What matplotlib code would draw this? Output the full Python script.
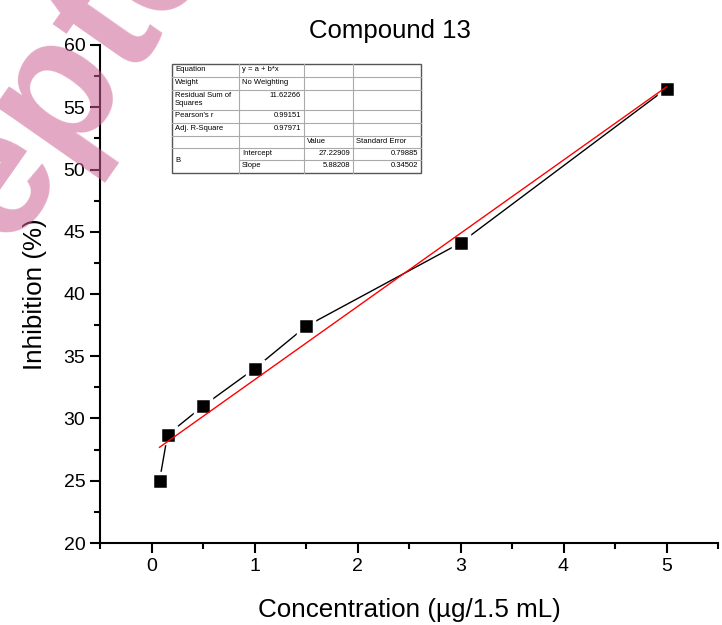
import numpy as np
import matplotlib.pyplot as plt
from matplotlib.lines import Line2D
from matplotlib.ticker import MultipleLocator

plt.rcParams['font.family'] = ['Liberation Sans', 'DejaVu Sans']

# data
conc = [0.078, 0.156, 0.5, 1.0, 1.5, 3.0, 5.0]
inhib = [25.0, 28.7, 31.0, 34.0, 37.4, 44.1, 56.5]
intercept = 27.22909
slope = 5.88208

table_rows = [
    ["Equation", "y = a + b*x", "", ""],
    ["Weight", "No Weighting", "", ""],
    ["Residual Sum of\nSquares", "11.62266", "", ""],
    ["Pearson's r", "0.99151", "", ""],
    ["Adj. R-Square", "0.97971", "", ""],
    ["", "", "Value", "Standard Error"],
    ["B", "Intercept", "27.22909", "0.79885"],
    ["", "Slope", "5.88208", "0.34502"],
]

W, H = 722, 625
fig = plt.figure(figsize=(W / 100, H / 100), dpi=100)
ax = fig.add_axes([100 / W, 1 - 543 / H, 618 / W, 498 / H])

# watermark, semi-transparent over everything
fig.text(-182 / W, 1 - 520 / H, "Accepted", fontsize=130, fontweight='bold', color='#cc5e92',
         alpha=0.54, rotation=55, rotation_mode='anchor', ha='left', va='baseline', zorder=20)

# line first, then markers with white rim so the line stops short of them
ax.plot(conc, inhib, color='black', lw=1, zorder=2)
ax.plot(conc, inhib, ls='none', marker='s', ms=11, mfc='black', mec='white', mew=2.5, zorder=3)
xf = np.array([conc[0], conc[-1]])
ax.plot(xf, intercept + slope * xf, color='red', lw=1, zorder=4)

ax.set_xlim(-0.5, 5.5)
ax.set_ylim(20, 60)
ax.xaxis.set_major_locator(MultipleLocator(1))
ax.xaxis.set_minor_locator(MultipleLocator(0.5))
ax.yaxis.set_major_locator(MultipleLocator(5))
ax.yaxis.set_minor_locator(MultipleLocator(2.5))
ax.spines['top'].set_visible(False)
ax.spines['right'].set_visible(False)
for s in ['left', 'bottom']:
    ax.spines[s].set_linewidth(1.5)
ax.tick_params(which='major', direction='out', length=7, width=1.5, labelsize=14)
ax.tick_params(which='minor', direction='out', length=4, width=1.5)
ax.set_xlabel("Concentration (\u00b5g/1.5 mL)", fontsize=18.7, labelpad=17)
ax.set_ylabel("Inhibition (%)", fontsize=18.7, labelpad=12)
fig.text(390 / W, 1 - 31 / H, "Compound 13", fontsize=18.5, ha='center', va='center')

# fit table
cols = [172, 239, 304, 353, 421]
rows = [64, 77, 90, 110, 123, 136, 148, 160, 173]


def fx(px):
    return px / W


def fy(py):
    return 1 - py / H


fig.patches.append(plt.Rectangle((fx(172), fy(173)), (421 - 172) / W, (173 - 64) / H,
                                 transform=fig.transFigure, fc='white', ec='#555555', lw=1, zorder=5))
for r in rows[1:-1]:
    x0 = 239 if r == 160 else 172
    fig.lines.append(Line2D([fx(x0), fx(421)], [fy(r), fy(r)], transform=fig.transFigure,
                            color='#aaaaaa', lw=0.8, zorder=6))
for c in cols[1:-1]:
    fig.lines.append(Line2D([fx(c), fx(c)], [fy(64), fy(173)], transform=fig.transFigure,
                            color='#aaaaaa', lw=0.8, zorder=6))

for i, row in enumerate(table_rows):
    top, bot = rows[i], rows[i + 1]
    for j, txt in enumerate(row):
        if not txt:
            continue
        l, r = cols[j], cols[j + 1]
        if i == 6 and j == 0:
            fig.text(fx(l + 3), fy(160), txt, fontsize=5.5, ha='left', va='center', zorder=7)
            continue
        numeric = txt[0].isdigit()
        if numeric:
            fig.text(fx(r - 3), fy(top + 2), txt, fontsize=5.5, ha='right', va='top', zorder=7)
        else:
            fig.text(fx(l + 3), fy(top + 2), txt, fontsize=5.5, ha='left', va='top',
                     linespacing=1.2, zorder=7)

fig.savefig("out.png", dpi=100)
